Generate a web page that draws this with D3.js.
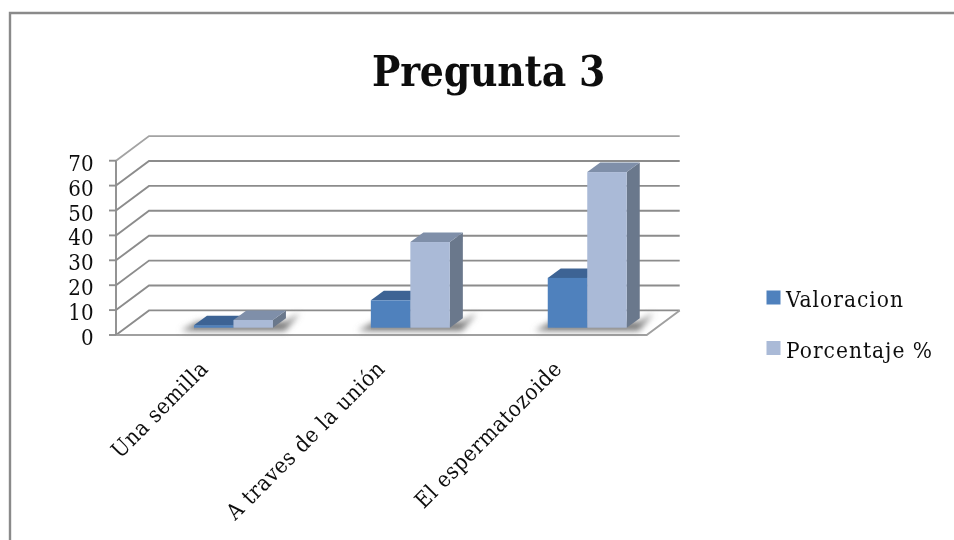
<!DOCTYPE html>
<html><head><meta charset="utf-8">
<script src="https://cdn.jsdelivr.net/npm/d3@7"></script>
<style>html,body{margin:0;background:#fff}svg{display:block}text{font-family:"DejaVu Serif Condensed","DejaVu Serif",serif;fill:#111}</style>
</head><body><svg id="c" width="954" height="540"></svg>
<script>
const categories=["Una semilla","A traves de la unión","El espermatozoide"];
const valoracion=[1,11,20];
const porcentaje=[3.1,34.4,62.5];
const seriesNames=["Valoracion","Porcentaje %"];
const yTicks=[0,10,20,30,40,50,60,70];
const title="Pregunta 3";

const root=d3.select("#c");
const defs=root.append("defs");
defs.append("filter").attr("id","blur").attr("x","-30%").attr("y","-60%").attr("width","160%").attr("height","220%")
  .append("feGaussianBlur").attr("stdDeviation",3);
defs.append("filter").attr("id","soft").attr("filterUnits","userSpaceOnUse").attr("x",0).attr("y",0).attr("width",954).attr("height",540)
  .append("feGaussianBlur").attr("stdDeviation",0.45);
const svg=root.append("g").attr("filter","url(#soft)");

const y=d3.scaleLinear().domain([0,70]).range([335,160.7]);
const x=d3.scaleBand().domain(categories).range([116,646.7]);
const wall={dx:33,dy:-24.6};
const barOff={dx:29,dy:-7.3};
const barW=39.5, depth={dx:13,dy:-9.5};
const grid="#8c8c8c";

// frame
svg.append("path").attr("d","M10,540V13H954").attr("fill","none").attr("stroke","#8a8a8a").attr("stroke-width",2.4);

// title
svg.append("text").attr("x",488.5).attr("y",86).attr("text-anchor","middle")
  .attr("font-size",42).attr("font-weight","bold").attr("letter-spacing",-0.2).text(title);

// gridlines on walls
const g=svg.append("g").attr("fill","none").attr("stroke",grid).attr("stroke-width",1.9);
yTicks.forEach(t=>{
  const p=y(t);
  g.append("path").attr("d",`M116,${p}L${116+wall.dx},${p+wall.dy}H${646.7+wall.dx}`)
    .attr("stroke",t===70?"#a3a3a3":grid);
});
// floor right/front
g.append("path").attr("d",`M${646.7+wall.dx},${y(0)+wall.dy}L646.7,${y(0)}H116`).attr("stroke","#a0a0a0");
// y axis
g.append("path").attr("d",`M116,${y(0)}V${y(70)}`).attr("stroke","#8f8f8f");
yTicks.forEach(t=>g.append("path").attr("d",`M109,${y(t)}H116`).attr("stroke","#8f8f8f"));

// y labels
svg.append("g").selectAll("text").data(yTicks).join("text")
  .attr("x",93.5).attr("y",d=>y(d)+10).attr("text-anchor","end")
  .attr("font-size",22).text(d=>d);

const seriesData=[valoracion,porcentaje];
const palette=[
 {front:"#4f81bd",top:"#3c6494",side:"#385d8a"},
 {front:"#aabad7",top:"#7f8fa9",side:"#6b788c"}];
const baseY=y(0)+barOff.dy;
const h=d=>y(0)-y(d);

// shadows
const sh=svg.append("g").attr("filter","url(#blur)").attr("fill","#777");
categories.forEach(c=>{
  const mid=x(c)+x.bandwidth()/2+barOff.dx;
  const x0=mid-barW, x1=mid+barW;
  sh.append("path").attr("d",`M${x0-13},${baseY+3}L${x0+4},${baseY-6}H${x1+13}L${x1+27},${baseY-15}L${x1+12},${baseY+3}Z`);
});
// floor shadow line under bars
categories.forEach(c=>{
  const mid=x(c)+x.bandwidth()/2+barOff.dx;
  svg.append("rect").attr("x",mid-barW).attr("y",baseY).attr("width",barW*2).attr("height",1.6).attr("fill","#9a9a9a");
});

// bars
seriesData.forEach((vals,si)=>{
  const col=palette[si];
  const gb=svg.append("g");
  categories.forEach((c,i)=>{
    const mid=x(c)+x.bandwidth()/2+barOff.dx;
    const bx=mid-barW+si*barW;
    const top=baseY-h(vals[i]);
    gb.append("path").attr("fill",col.side)
      .attr("d",`M${bx+barW},${baseY}V${top}l${depth.dx},${depth.dy}V${baseY+depth.dy}Z`);
    gb.append("path").attr("fill",col.top)
      .attr("d",`M${bx},${top}H${bx+barW}l${depth.dx},${depth.dy}H${bx+depth.dx}Z`);
    gb.append("rect").attr("x",bx).attr("y",top).attr("width",barW).attr("height",baseY-top).attr("fill",col.front);
  });
});

// category labels
svg.append("g").selectAll("text").data(categories).join("text")
  .attr("text-anchor","end").attr("font-size",22).attr("letter-spacing",0.65)
  .attr("transform",d=>`translate(${x(d)+x.bandwidth()/2+5},${370}) rotate(-45)`)
  .text(d=>d);

// legend
const legY=d3.scalePoint().domain(seriesNames).range([297.5,348]);
const lg=svg.append("g").selectAll("g").data(seriesNames).join("g");
lg.append("rect").attr("x",766.5).attr("y",d=>legY(d)-7).attr("width",14).attr("height",14)
  .attr("fill",(d,i)=>palette[i].front);
lg.append("text").attr("x",786).attr("y",d=>legY(d)+9.5).attr("font-size",22.5).attr("letter-spacing",1).text(d=>d);
</script></body></html>
